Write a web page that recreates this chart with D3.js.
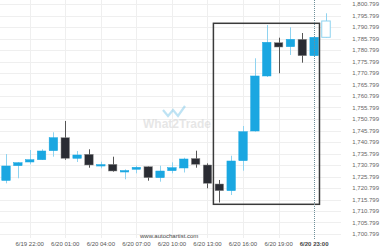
<!DOCTYPE html>
<html>
<head>
<meta charset="utf-8">
<script src="https://d3js.org/d3.v7.min.js"></script>
<style>
  body { margin: 0; background: #fff; }
  svg { display: block; font-family: "Liberation Sans", Arial, sans-serif; }
</style>
</head>
<body>
<div id="chart"></div>
<script>
// hourly candles, 6/19 20:00 .. 6/20 23:00
const opens  = [1724.06, 1730.50, 1732.10, 1733.10, 1737.02, 1742.67, 1733.71, 1735.45, 1730.80, 1731.10,
                1728.19, 1728.93, 1730.06, 1725.28, 1728.32, 1729.50, 1733.63, 1730.80, 1722.54, 1719.63,
                1732.67, 1745.58, 1769.50, 1783.97, 1782.23, 1785.45, 1778.32, 1786.32];
const highs  = [1735.58, 1732.00, 1737.32, 1737.63, 1745.02, 1749.93, 1736.89, 1737.63, 1732.23, 1734.41,
                1728.90, 1730.50, 1730.20, 1730.50, 1731.97, 1733.97, 1737.02, 1731.50, 1724.28, 1734.84,
                1747.76, 1777.19, 1791.67, 1786.15, 1790.67, 1788.19, 1786.40, 1796.76];
const lows   = [1722.84, 1725.02, 1731.10, 1733.00, 1734.41, 1733.10, 1732.10, 1729.63, 1729.37, 1727.89,
                1724.58, 1727.19, 1723.97, 1723.54, 1727.19, 1727.54, 1729.63, 1720.67, 1714.50, 1717.76,
                1728.32, 1745.30, 1769.06, 1770.67, 1778.63, 1775.28, 1778.00, 1786.15];
const closes = [1730.37, 1731.80, 1733.10, 1736.89, 1742.67, 1733.71, 1735.15, 1730.80, 1731.00, 1728.19,
                1728.40, 1729.80, 1725.28, 1728.19, 1729.63, 1733.41, 1731.10, 1722.84, 1719.63, 1732.54,
                1745.28, 1769.50, 1784.15, 1782.10, 1785.45, 1778.32, 1786.32, 1793.41];

const tickIdx    = [2, 5, 8, 11, 14, 17, 20, 23];
const tickLabels = ["6/19 22:00", "6/20 01:00", "6/20 04:00", "6/20 07:00", "6/20 10:00",
                    "6/20 13:00", "6/20 16:00", "6/20 19:00"];
const nowIdx = 26, nowLabel = "6/20 23:00";
const priceTicks = d3.range(0, 21).map(i => 1700.799 + i * 5);
// pattern box: [start index, end index, top price, bottom price]
const box = [17.5, 26.45, 1792.41, 1713.71];

const W = 380, H = 250;
const x = d3.scaleLinear().domain([0, 27]).range([6, 326]);
const y = d3.scaleLinear().domain([1700.799, 1800.799]).range([234, 4]);
const plotRight = 341;

const svg = d3.select("#chart").append("svg").attr("width", W).attr("height", H);

// grid
svg.append("g").selectAll("line").data(priceTicks).join("line")
  .attr("x1", 0).attr("x2", plotRight)
  .attr("y1", d => Math.round(y(d)) + 0.5).attr("y2", d => Math.round(y(d)) + 0.5)
  .attr("stroke", "#efefef");
svg.append("g").selectAll("line").data(tickIdx).join("line")
  .attr("x1", d => Math.round(x(d)) + 0.5).attr("x2", d => Math.round(x(d)) + 0.5)
  .attr("y1", 0).attr("y2", 238)
  .attr("stroke", "#efefef");

// watermark
const wm = svg.append("g").attr("opacity", 0.5);
wm.append("path")
  .attr("d", "M163,110 L168,116 L173,110 L178,116 L185,106")
  .attr("fill", "none").attr("stroke", "#7fc9ea").attr("stroke-width", 2.2);
wm.append("text").attr("x", 143).attr("y", 128)
  .attr("font-size", 12).attr("font-weight", "bold").attr("fill", "#cfcfcf")
  .text("What2Trade");

// y labels
svg.append("g").selectAll("text").data(priceTicks).join("text")
  .attr("x", 379).attr("y", d => y(d) + 2)
  .attr("text-anchor", "end")
  .attr("font-size", 6).attr("fill", "#666")
  .text(d => d3.format(",.3f")(d));

// x labels
svg.append("g").selectAll("text").data(tickIdx).join("text")
  .attr("x", d => x(d)).attr("y", 245.5)
  .attr("text-anchor", "middle").attr("font-size", 6).attr("fill", "#555")
  .text((d, i) => tickLabels[i]);

svg.append("text").attr("x", 140).attr("y", 238)
  .attr("font-size", 6).attr("fill", "#444").text("www.autochartist.com");

// candles
const bw = 8.5;
const g = svg.append("g");
opens.forEach((o, i) => {
  const c = closes[i];
  const last = i === opens.length - 1;
  const up = c >= o;
  const wickCol = last ? "#8fd3f0" : up ? "#8fd3f0" : "#555";
  const cx = Math.round(x(i)) + 0.5;
  g.append("line").attr("x1", cx).attr("x2", cx)
    .attr("y1", y(highs[i])).attr("y2", y(lows[i]))
    .attr("stroke", wickCol).attr("stroke-width", 1);
  const top = y(Math.max(o, c)), bot = y(Math.min(o, c));
  g.append("rect")
    .attr("x", x(i) - bw / 2).attr("width", bw)
    .attr("y", top).attr("height", Math.max(1.5, bot - top))
    .attr("fill", last ? "#fff" : up ? "#1aa7e1" : "#2a2c33")
    .attr("stroke", last ? "#8fd3f0" : up ? "#1aa7e1" : "#8a8a8a")
    .attr("stroke-width", last ? 1 : 0.5);
});

// pattern box
svg.append("rect")
  .attr("x", x(box[0])).attr("width", x(box[1]) - x(box[0]))
  .attr("y", y(box[2])).attr("height", y(box[3]) - y(box[2]))
  .attr("fill", "none").attr("stroke", "#3a3a3a").attr("stroke-width", 1.5);

// current time marker
svg.append("line")
  .attr("x1", Math.round(x(nowIdx)) + 0.5).attr("x2", Math.round(x(nowIdx)) + 0.5)
  .attr("y1", 0).attr("y2", 239)
  .attr("stroke", "#6f8f99").attr("stroke-dasharray", "1,1");
svg.append("text").attr("x", x(nowIdx)).attr("y", 245.5)
  .attr("text-anchor", "middle").attr("font-size", 6).attr("font-weight", "bold").attr("fill", "#444")
  .text(nowLabel);
</script>
</body>
</html>
